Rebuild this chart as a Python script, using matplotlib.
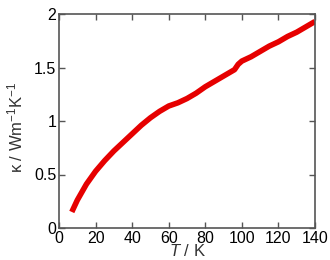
import matplotlib
matplotlib.use("Agg")
from matplotlib import pyplot as plt

# thermal conductivity vs temperature
temperature = [7, 10, 15, 20, 25, 30, 35, 40, 45, 50, 55, 60, 65, 70, 75,
               80, 85, 90, 94, 96, 98, 100, 105, 110, 115, 120, 125, 130,
               135, 140]
kappa = [0.15, 0.26, 0.41, 0.53, 0.63, 0.72, 0.80, 0.88, 0.96, 1.03, 1.09,
         1.14, 1.17, 1.21, 1.26, 1.32, 1.37, 1.42, 1.46, 1.48, 1.53, 1.56,
         1.60, 1.65, 1.70, 1.74, 1.79, 1.83, 1.88, 1.93]
x_ticks = [0, 20, 40, 60, 80, 100, 120, 140]
y_ticks = [0, 0.5, 1, 1.5, 2]
y_tick_labels = ['0', '0.5', '1', '1.5', '2']

plt.rcParams['font.family'] = ['Liberation Sans', 'DejaVu Sans']
plt.rcParams['mathtext.fontset'] = 'custom'
plt.rcParams['mathtext.it'] = 'Liberation Sans:italic'
plt.rcParams['mathtext.rm'] = 'Liberation Sans'

fig = plt.figure(figsize=(3.3, 2.6), dpi=100)
ax = fig.add_axes([59 / 330, 32 / 260, 256 / 330, 214 / 260])

ax.plot(temperature, kappa, color='#e60000', linewidth=4,
        solid_capstyle='butt')

ax.set_xlim(0, 140)
ax.set_ylim(0, 2)
ax.set_xticks(x_ticks)
ax.set_yticks(y_ticks)
ax.set_yticklabels(y_tick_labels)
ax.tick_params(direction='in', top=True, right=True, length=4, width=1,
               labelsize=11.5, pad=2, color='#555555')
for spine in ax.spines.values():
    spine.set_color('#555555')
    spine.set_linewidth(1.2)

ax.set_xlabel(r'$T$ / K', fontsize=12, color='#333333')
ax.xaxis.set_label_coords(0.5, -0.07)
ax.set_ylabel('κ / Wm$^{-1}$K$^{-1}$', fontsize=12, color='#333333')
ax.yaxis.set_label_coords(-0.13, 0.47)

fig.savefig('out.png', dpi=100)
